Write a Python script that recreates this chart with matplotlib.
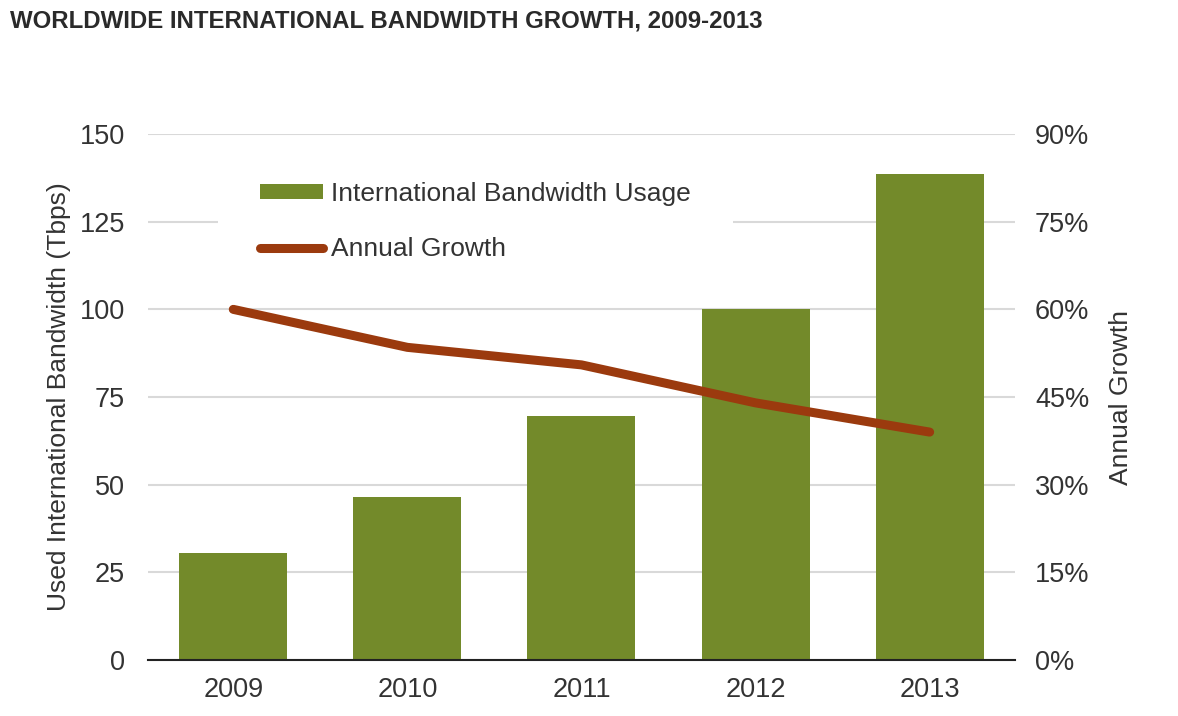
import numpy as np
import matplotlib.pyplot as plt

plt.rcParams['font.family'] = ['Liberation Sans', 'DejaVu Sans']

# data
years = ['2009', '2010', '2011', '2012', '2013']
bandwidth_tbps = [30.5, 46.5, 69.5, 100, 138.5]
annual_growth_pct = [60, 53.5, 50.5, 44, 39]

bar_color = '#738a2a'
line_color = '#9b3a0e'
text_color = '#333333'

fig = plt.figure(figsize=(11.78, 7.16), dpi=100)
ax = fig.add_axes([0.1256, 0.0782, 0.736, 0.7346])
ax2 = ax.twinx()

x = np.arange(len(years))
bars = ax.bar(x, bandwidth_tbps, width=0.62, color=bar_color, zorder=3,
              label='International Bandwidth Usage')
line, = ax2.plot(x, annual_growth_pct, color=line_color, linewidth=6.5,
                 solid_capstyle='round', solid_joinstyle='round', zorder=4,
                 label='Annual Growth')

ax.set_xlim(-0.49, 4.49)
ax.set_ylim(0, 150)
ax2.set_ylim(0, 90)
ax.set_yticks([0, 25, 50, 75, 100, 125, 150])
ax2.set_yticks([0, 15, 30, 45, 60, 75, 90])
ax2.set_yticklabels([f'{v}%' for v in ax2.get_yticks()])
ax.set_xticks(x)
ax.set_xticklabels(years)

ax.grid(axis='y', color='#d9d9d9', linewidth=1.5, zorder=0)
ax.set_axisbelow(True)
for a in (ax, ax2):
    for s in a.spines.values():
        s.set_visible(False)
    a.tick_params(length=0, labelsize=19.5, labelcolor=text_color)
ax.spines['bottom'].set_visible(True)
ax.spines['bottom'].set_color('#222222')
ax.spines['bottom'].set_linewidth(1.5)
ax.spines['bottom'].set_zorder(5)
ax.tick_params(axis='y', pad=16.5)
ax2.tick_params(axis='y', pad=14.5)
ax.tick_params(axis='x', pad=12)

ax.set_ylabel('Used International Bandwidth (Tbps)', fontsize=19,
              color=text_color, labelpad=6)
ax2.set_ylabel('Annual Growth', fontsize=19, color=text_color, labelpad=14)

ax2.set_zorder(ax.get_zorder() + 1)
ax2.patch.set_visible(False)

leg = ax2.legend([bars, line], [bars.get_label(), line.get_label()],
                 loc='upper left', bbox_to_anchor=(0.0807, 0.99),
                 fontsize=19, frameon=True, facecolor='white',
                 edgecolor='none', framealpha=1, borderpad=1.6,
                 handlelength=2.4, handleheight=0.5, handletextpad=0.3,
                 labelspacing=1.2, borderaxespad=0)
for t in leg.get_texts():
    t.set_color(text_color)

fig.text(0.0085, 0.97, 'WORLDWIDE INTERNATIONAL BANDWIDTH GROWTH, 2009-2013',
         fontsize=17.3, fontweight='bold', color='#2a2a2a', va='center')

fig.savefig('out.png', dpi=100, facecolor='white')
